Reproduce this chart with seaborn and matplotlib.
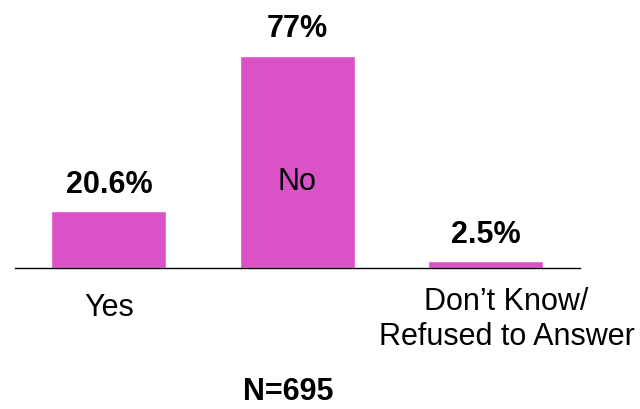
import pandas as pd
import matplotlib
matplotlib.use("Agg")
import matplotlib.pyplot as plt
import matplotlib.transforms as mtransforms
import seaborn as sns

# Datos del gráfico
categorias = ["Yes", "No", "Don\u2019t Know/\nRefused to Answer"]
porcentajes = [20.6, 77.0, 2.5]
etiquetas_valor = ["20.6%", "77%", "2.5%"]
etiquetas_eje = ["Yes", "", "Don\u2019t Know/\nRefused to Answer"]
nota = "N=695"

sns.set_style("white")
plt.rcParams['font.family'] = ['Liberation Sans', 'DejaVu Sans']
plt.rcParams['text.color'] = 'black'

df = pd.DataFrame({'Categoria': categorias, 'Porcentaje': porcentajes})

fig = plt.figure(figsize=(6.4, 4.1), dpi=100)
ax = fig.add_axes([0.023, 0.344, 0.883, 0.656])

sns.barplot(x='Categoria', y='Porcentaje', data=df, color='#DA52C6',
            saturation=1, width=0.61, ax=ax)

ax.set_xlim(-0.5, 2.5)
ax.set_ylim(0, 97.5)

# Etiquetas de valor sobre las barras
for i, (v, txt) in enumerate(zip(porcentajes, etiquetas_valor)):
    ax.annotate(txt, (i, v), xytext=(0, 14), textcoords='offset points',
                ha='center', va='baseline', fontsize=22, fontweight='bold',
                color='black')

# Etiqueta "No" dentro de la barra
ax.text(1, porcentajes[1] * 0.41, categorias[1], ha='center', va='center',
        fontsize=22, color='black')

ax.set_xticks(range(len(categorias)))
ax.set_xticklabels(etiquetas_eje, fontsize=22, linespacing=1.2, color='black')
ax.tick_params(axis='x', length=0, pad=17.3)
ax.set_yticks([])
ax.set_xlabel('')
ax.set_ylabel('')

# La última etiqueta va algo desplazada a la derecha y arriba
lbl = ax.get_xticklabels()[2]
lbl.set_transform(lbl.get_transform() +
                  mtransforms.ScaledTranslation(21 / 100, 6 / 100, fig.dpi_scale_trans))

for s in ['top', 'right', 'left']:
    ax.spines[s].set_visible(False)
ax.spines['bottom'].set_color('black')
ax.spines['bottom'].set_linewidth(1)

fig.text(288.5 / 640, 1 - 400 / 410, nota, ha='center', va='baseline',
         fontsize=22, fontweight='bold', color='black')

fig.savefig('out.png', dpi=100)
